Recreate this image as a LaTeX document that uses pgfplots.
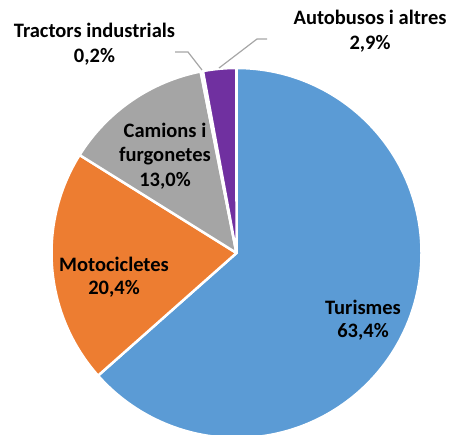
\documentclass[border=0pt]{standalone}
\usepackage{pgfplots}
\pgfplotsset{compat=1.18}
\usepackage{pgfplotstable}
\usepackage{fontspec}
\setmainfont{Carlito}

\definecolor{tur}{HTML}{5B9BD5}
\definecolor{moto}{HTML}{ED7D31}
\definecolor{cam}{HTML}{A5A5A5}
\definecolor{trac}{HTML}{FFC000}
\definecolor{bus}{HTML}{7030A0}
\definecolor{leader}{HTML}{A6A6A6}

\tikzset{lbl/.style={font=\fontsize{20.5}{24}\selectfont\bfseries, anchor=base, inner sep=0pt}}

% slices, clockwise from 12 o'clock
\pgfplotstableread{
value col
63.4 tur
20.4 moto
13.0 cam
0.2  trac
2.9  bus
}\piedata

\begin{document}
\begin{tikzpicture}
\begin{axis}[
  width=452pt, height=434pt, scale only axis,
  hide axis, clip=false,
  xmin=0, xmax=452, ymin=0, ymax=434,
]
\def\cx{236.5}\def\cy{181}\def\rad{185}
\pgfplotstablegetrowsof{\piedata}
\pgfmathtruncatemacro{\nrows}{\pgfplotsretval-1}
\xdef\cum{90}
\pgfplotsforeachungrouped \i in {0,...,\nrows}{%
  \pgfplotstablegetelem{\i}{value}\of\piedata \let\val\pgfplotsretval
  \pgfplotstablegetelem{\i}{col}\of\piedata \let\slicecol\pgfplotsretval
  \pgfmathsetmacro{\endang}{\cum-\val/99.9*360}
  \pgfmathsetmacro{\sx}{\cx+\rad*cos(\cum)}
  \pgfmathsetmacro{\sy}{\cy+\rad*sin(\cum)}
  \edef\temp{\noexpand\filldraw[fill=\slicecol, draw=white, line width=2.5pt, line join=round]
    (axis cs:\cx,\cy) -- (axis cs:\sx,\sy)
    arc[start angle=\cum, end angle=\endang, radius=\rad pt] -- cycle;}
  \temp
  \xdef\cum{\endang}
}

% leader lines
\addplot[leader, line width=1.2pt, mark=none] coordinates {(175,382) (188,382) (202,364)};
\addplot[leader, line width=1.2pt, mark=none] coordinates {(267,395) (257,395) (219,366)};

% labels
\node[lbl] at (axis cs:363,119) {Turismes};
\node[lbl] at (axis cs:363,96) {63,4\%};
\node[lbl] at (axis cs:114,162) {Motocicletes};
\node[lbl] at (axis cs:114,139) {20,4\%};
\node[lbl] at (axis cs:165,296) {Camions i};
\node[lbl] at (axis cs:165,272) {furgonetes};
\node[lbl] at (axis cs:165,247) {13,0\%};
\node[lbl] at (axis cs:94.5,396) {Tractors industrials};
\node[lbl] at (axis cs:94.5,371) {0,2\%};
\node[lbl] at (axis cs:370,409) {Autobusos i altres};
\node[lbl] at (axis cs:370,384) {2,9\%};
\end{axis}
\pgfresetboundingbox
\path (current axis.south west) rectangle (current axis.north east);
\end{tikzpicture}
\end{document}
